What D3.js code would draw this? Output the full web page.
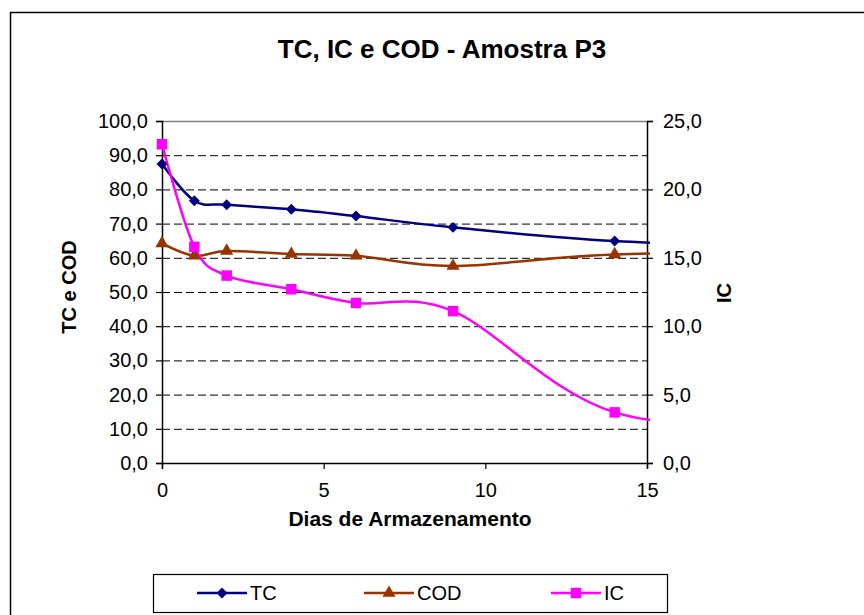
<!DOCTYPE html>
<html>
<head>
<meta charset="utf-8">
<script src="https://cdn.jsdelivr.net/npm/d3@7"></script>
<style>
    body { margin: 0; background: #fff; }
    svg { font-family: "Liberation Sans", Arial, sans-serif; }
</style>
</head>
<body>
<svg id="chart" width="864" height="615"></svg>
<script>
    // data (last point lies past the axis end, it is clipped)
    const days = [0, 1, 2, 4, 6, 9, 14, 21];
    const tcValues = [87.4, 76.7, 75.5, 74.2, 72.2, 68.9, 64.9, 62.5];
    const codValues = [64.2, 60.6, 62.0, 61.1, 60.6, 57.6, 61.0, 61.4];
    const icValues = [23.3, 15.8, 13.7, 12.7, 11.7, 11.1, 3.7, 2.4];
    const leftTicks = [0, 10, 20, 30, 40, 50, 60, 70, 80, 90, 100];
    const rightTicks = [0, 5, 10, 15, 20, 25];
    const xTicks = [0, 5, 10, 15];

    const svg = d3.select("#chart");
    const plotLeft = 162, plotRight = 647, plotTop = 121, plotBottom = 463;

    let x = d3.scaleLinear().domain([0, 15]).range([plotLeft, plotRight]);
    let yL = d3.scaleLinear().domain([0, 100]).range([plotBottom, plotTop]);
    let yR = d3.scaleLinear().domain([0, 25]).range([plotBottom, plotTop]);
    let fmt = d => d3.format(".1f")(d).replace(".", ",");

    // outer chart frame
    svg.append("rect")
        .attr("x", 10.5).attr("y", 12.5)
        .attr("width", 900).attr("height", 700)
        .attr("fill", "none").attr("stroke", "#000").attr("stroke-width", 1.5);

    svg.append("text")
        .attr("x", 442).attr("y", 58)
        .attr("text-anchor", "middle")
        .attr("font-size", 26).attr("font-weight", "bold")
        .text("TC, IC e COD - Amostra P3");

    // grid
    svg.append("g").selectAll("line")
        .data(leftTicks.filter(d => d > 0 && d < 100))
        .join("line")
        .attr("x1", plotLeft).attr("x2", plotRight)
        .attr("y1", d => yL(d) + 0.5).attr("y2", d => yL(d) + 0.5)
        .attr("stroke", "#000").attr("stroke-dasharray", "8,4");

    svg.append("line")
        .attr("x1", plotLeft).attr("x2", plotRight)
        .attr("y1", plotTop + 0.5).attr("y2", plotTop + 0.5)
        .attr("stroke", "#808080").attr("stroke-width", 1.5);

    // axes
    let axisL = svg.append("g").attr("transform", `translate(${plotLeft},0)`)
        .call(d3.axisLeft(yL).tickValues(leftTicks).tickFormat(fmt).tickSizeOuter(0).tickSize(6).tickPadding(8));
    let axisR = svg.append("g").attr("transform", `translate(${plotRight},0)`)
        .call(d3.axisRight(yR).tickValues(rightTicks).tickFormat(fmt).tickSizeOuter(0).tickSize(6).tickPadding(10));
    let axisB = svg.append("g").attr("transform", `translate(0,${plotBottom})`)
        .call(d3.axisBottom(x).tickValues(xTicks).tickFormat(d3.format("d")).tickSizeOuter(0).tickSize(6).tickPadding(14));

    [axisL, axisR, axisB].forEach(a => {
        a.select(".domain").attr("stroke", "#000").attr("stroke-width", 1.5);
        a.selectAll(".tick line").attr("stroke", "#000").attr("stroke-width", 1.2);
        a.selectAll("text").attr("font-size", 20).attr("fill", "#000")
            .attr("font-family", "Liberation Sans, Arial, sans-serif");
    });

    // axis titles
    svg.append("text")
        .attr("transform", "translate(76,287) rotate(-90)")
        .attr("text-anchor", "middle")
        .attr("font-size", 20).attr("font-weight", "bold")
        .text("TC e COD");
    svg.append("text")
        .attr("transform", "translate(731,293) rotate(-90)")
        .attr("text-anchor", "middle")
        .attr("font-size", 20).attr("font-weight", "bold")
        .text("IC");
    svg.append("text")
        .attr("x", 410).attr("y", 526)
        .attr("text-anchor", "middle")
        .attr("font-size", 21).attr("font-weight", "bold")
        .text("Dias de Armazenamento");

    // series
    svg.append("clipPath").attr("id", "plot-clip")
        .append("rect").attr("x", plotLeft - 10).attr("y", plotTop - 20)
        .attr("width", plotRight - plotLeft + 13).attr("height", plotBottom - plotTop + 30);

    // diamond = square turned 45 degrees
    const series = [
        { name: "TC", values: tcValues, y: yL, color: "#000080", symbol: d3.symbolSquare, size: 60, rot: 45 },
        { name: "COD", values: codValues, y: yL, color: "#993300", symbol: d3.symbolTriangle, size: 75, rot: 0 },
        { name: "IC", values: icValues, y: yR, color: "#ff00ff", symbol: d3.symbolSquare, size: 110, rot: 0 }
    ];

    let plot = svg.append("g").attr("clip-path", "url(#plot-clip)");
    let line = d3.line().curve(d3.curveCardinal.tension(0));

    series.forEach(s => {
        let pts = days.map((d, i) => [x(d), s.y(s.values[i])]);
        plot.append("path")
            .attr("d", line(pts))
            .attr("fill", "none").attr("stroke", s.color).attr("stroke-width", 2.5);
    });
    series.forEach(s => {
        let pts = days.map((d, i) => [x(d), s.y(s.values[i])]).filter(p => p[0] <= plotRight);
        plot.selectAll(null).data(pts).join("path")
            .attr("transform", p => `translate(${p[0]},${p[1]}) rotate(${s.rot})`)
            .attr("d", d3.symbol().type(s.symbol).size(s.size))
            .attr("fill", s.color);
    });

    // legend
    let legend = svg.append("g");
    legend.append("rect")
        .attr("x", 153.5).attr("y", 574.5).attr("width", 514).attr("height", 38)
        .attr("fill", "#fff").attr("stroke", "#000").attr("stroke-width", 1.2);
    const legendX = [197, 364, 551];
    series.forEach((s, i) => {
        let lx = legendX[i];
        legend.append("line")
            .attr("x1", lx).attr("x2", lx + 50).attr("y1", 593).attr("y2", 593)
            .attr("stroke", s.color).attr("stroke-width", 2.5);
        legend.append("path")
            .attr("transform", `translate(${lx + 25},593) rotate(${s.rot})`)
            .attr("d", d3.symbol().type(s.symbol).size(s.size))
            .attr("fill", s.color);
        legend.append("text")
            .attr("x", lx + 53).attr("y", 600)
            .attr("font-size", 20)
            .text(s.name);
    });
</script>
</body>
</html>
